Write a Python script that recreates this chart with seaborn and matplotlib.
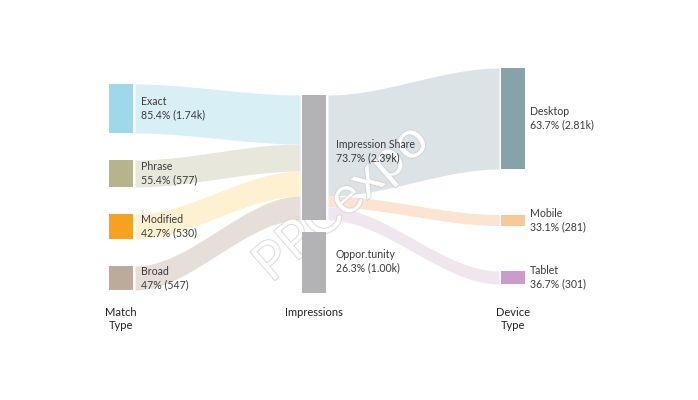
import numpy as np
import matplotlib
matplotlib.use("Agg")
import matplotlib.pyplot as plt
import matplotlib.patheffects as pe
import seaborn as sns

# ---- data ----
match_types = ["Exact", "Phrase", "Modified", "Broad"]
match_labels = ["85.4% (1.74k)", "55.4% (577)", "42.7% (530)", "47% (547)"]
match_flow = [49, 27, 25, 24]          # flow widths into "Impression Share"

impression_nodes = ["Impression Share", "Oppor.tunity"]
impression_labels = ["73.7% (2.39k)", "26.3% (1.00k)"]
opportunity_size = 61

device_types = ["Desktop", "Mobile", "Tablet"]
device_labels = ["63.7% (2.81k)", "33.1% (281)", "36.7% (301)"]
device_flow = [101, 11, 13]            # flow widths from "Impression Share"

column_titles = ["Match\nType", "Impressions", "Device\nType"]

match_node_colors = ["#9fd8ea", "#b6b48a", "#f7a21f", "#bcab9b"]
match_flow_colors = ["#d8eff6", "#e7e7dc", "#fdf1d2", "#e6dfd9"]
imp_color = "#b3b3b5"
device_node_colors = ["#86a3aa", "#f9c899", "#cc9bc9"]
device_flow_colors = ["#dbe3e6", "#fde4d0", "#efe6f0"]

# ---- style ----
sns.set_theme(style="white")
plt.rcParams["font.family"] = ["Lato", "DejaVu Sans"]

fig = plt.figure(figsize=(6.98, 4.0), dpi=100)
ax = fig.add_axes([0, 0, 1, 1])
ax.set_xlim(0, 698)
ax.set_ylim(400, 0)
ax.axis("off")

col_x = [109, 302, 501]
node_w = 24
col_top = [84, 95, 68]
col_gap = [27, 12, 45.5]
fs = 7.6
txt_col = "#3a3a3a"


def layout(sizes, top, gap):
    pos = []
    y = top
    for s in sizes:
        pos.append((y, y + s))
        y += s + gap
    return pos


def flow(x0, x1, a0, a1, b0, b1, color):
    t = np.linspace(0, 1, 100)
    s = 3 * t ** 2 - 2 * t ** 3
    xs = x0 + (x1 - x0) * t
    top = a0 + (b0 - a0) * s
    bot = a1 + (b1 - a1) * s
    ax.fill_between(xs, top, bot, color=color, lw=0, zorder=1)


# nodes
left_pos = layout(match_flow, col_top[0], col_gap[0])
mid_sizes = [sum(match_flow), opportunity_size]
mid_pos = layout(mid_sizes, col_top[1], col_gap[1])
right_pos = layout(device_flow, col_top[2], col_gap[2])

# flows left -> mid
y = mid_pos[0][0]
for (a, b), v, c in zip(left_pos, match_flow, match_flow_colors):
    flow(col_x[0] + node_w + 2, col_x[1] - 2, a, b, y, y + v, c)
    y += v

# flows mid -> right
y = mid_pos[0][0]
for (a, b), v, c in zip(right_pos, device_flow, device_flow_colors):
    flow(col_x[1] + node_w + 2, col_x[2] - 2, y, y + v, a, b, c)
    y += v

for (a, b), c in zip(left_pos, match_node_colors):
    ax.add_patch(plt.Rectangle((col_x[0], a), node_w, b - a, color=c, lw=0, zorder=2))
for (a, b) in mid_pos:
    ax.add_patch(plt.Rectangle((col_x[1], a), node_w, b - a, color=imp_color, lw=0, zorder=2))
for (a, b), c in zip(right_pos, device_node_colors):
    ax.add_patch(plt.Rectangle((col_x[2], a), node_w, b - a, color=c, lw=0, zorder=2))

# labels
for (a, b), n, l in zip(left_pos, match_types, match_labels):
    ax.text(col_x[0] + node_w + 8, (a + b) / 2, f"{n}\n{l}", fontsize=fs,
            color=txt_col, va="center", ha="left", linespacing=1.25, zorder=4)
for i, ((a, b), n, l) in enumerate(zip(mid_pos, impression_nodes, impression_labels)):
    yc = (a + b) / 2 - (6 if i == 0 else 1)
    ax.text(col_x[1] + node_w + 10, yc, f"{n}\n{l}", fontsize=fs,
            color=txt_col, va="center", ha="left", linespacing=1.25, zorder=4)
for (a, b), n, l in zip(right_pos, device_types, device_labels):
    ax.text(col_x[2] + node_w + 5, (a + b) / 2, f"{n}\n{l}", fontsize=fs,
            color=txt_col, va="center", ha="left", linespacing=1.25, zorder=4)

for x, t in zip(col_x, column_titles):
    ax.text(x + node_w / 2, 307, t, fontsize=fs + 0.4, color="#222222",
            ha="center", va="top", linespacing=1.25, zorder=4)

# watermark
ax.text(342, 203, "PPCexpo", fontsize=38, rotation=41, ha="center", va="center",
        color="white", alpha=0.85, zorder=1.5,
        path_effects=[pe.Stroke(linewidth=1.0, foreground="#c9c9c9", alpha=0.8),
                      pe.Normal()])

fig.savefig("out.png", dpi=100)
